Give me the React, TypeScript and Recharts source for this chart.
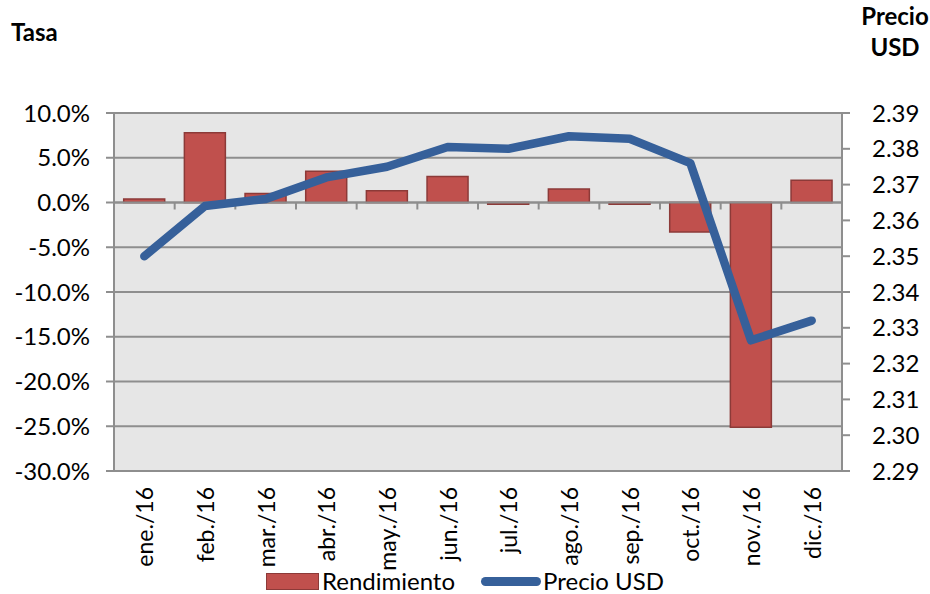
import { ComposedChart, Bar, Line, XAxis, YAxis, CartesianGrid, Legend, ReferenceLine } from "recharts"

const months = ["ene./16", "feb./16", "mar./16", "abr./16", "may./16", "jun./16", "jul./16", "ago./16", "sep./16", "oct./16", "nov./16", "dic./16"]
const rendimiento = [0.4, 7.8, 1.0, 3.5, 1.3, 2.9, -0.2, 1.5, -0.2, -3.3, -25.1, 2.5]
const precioUsd = [2.35, 2.364, 2.366, 2.372, 2.375, 2.3805, 2.38, 2.3835, 2.3828, 2.376, 2.3265, 2.332]
const leftTicks = [10, 5, 0, -5, -10, -15, -20, -25, -30]
const rightTicks = [2.39, 2.38, 2.37, 2.36, 2.35, 2.34, 2.33, 2.32, 2.31, 2.3, 2.29]

const data = months.map((m, i) => ({ month: m, rend: rendimiento[i], precio: precioUsd[i] }))

const FONT = "Lato, 'Noto Sans', sans-serif"
const GRID = "#8e8e8e"
const BAR = "#c0504d"
const BAR_EDGE = "#8c3a38"
const LINE = "#36609a"

function MonthTick({ x, y, payload }: any) {
  const ty = y + 8
  return (
    <text
      x={x}
      y={ty}
      transform={`rotate(-90, ${x}, ${ty})`}
      textAnchor="end"
      dominantBaseline="central"
      fontSize={23}
      fontFamily={FONT}
      fill="#000"
    >
      {payload.value}
    </text>
  )
}

function ZeroAxis({ x1, y1, x2 }: any) {
  const step = (x2 - x1) / months.length
  const marks = months.slice(1).map((_, i) => x1 + step * (i + 1))
  return (
    <g>
      <line x1={x1} y1={y1} x2={x2} y2={y1} stroke={GRID} strokeWidth={2} />
      {marks.map((mx, i) => (
        <line key={i} x1={mx} y1={y1} x2={mx} y2={y1 + 7} stroke={GRID} strokeWidth={2} />
      ))}
    </g>
  )
}

function LegendBox() {
  return (
    <div style={{ display: "flex", justifyContent: "center", alignItems: "center", fontFamily: FONT, fontSize: 24, lineHeight: "22px", color: "#000", height: 22 }}>
      <span style={{ width: 53, height: 17, background: BAR, border: `1px solid ${BAR_EDGE}`, boxSizing: "border-box", marginRight: 3 }} />
      <span style={{ marginRight: 26 }}>Rendimiento</span>
      <span style={{ width: 60, height: 9, background: LINE, borderRadius: 5, marginRight: 2 }} />
      <span>Precio USD</span>
    </div>
  )
}

export default function App() {
  return (
    <div style={{ position: "absolute", left: 0, top: 0, width: 930, height: 594, background: "#fff" }}>
      <div style={{ position: "absolute", left: 11, top: 17, fontFamily: FONT, fontWeight: 700, fontSize: 24 }}>Tasa</div>
      <div style={{ position: "absolute", left: 847, top: 0, width: 96, textAlign: "center", fontFamily: FONT, fontWeight: 700, fontSize: 24, lineHeight: "31px" }}>
        Precio
        <br />
        USD
      </div>
      <ComposedChart width={930} height={594} data={data} margin={{ top: 113, right: 0, left: 0, bottom: 2 }} barCategoryGap="16%">
        <CartesianGrid yAxisId="left" vertical={false} stroke={GRID} strokeWidth={2} fill="#e6e6e6" fillOpacity={1} />
        <XAxis dataKey="month" height={99} axisLine={false} tickLine={false} tick={<MonthTick />} interval={0} />
        <YAxis
          yAxisId="left"
          width={114}
          domain={[-30, 10]}
          ticks={leftTicks}
          tickFormatter={(v: number) => `${v.toFixed(1)}%`}
          axisLine={{ stroke: GRID, strokeWidth: 2 }}
          tickLine={{ stroke: GRID, strokeWidth: 2 }}
          tickSize={8}
          tickMargin={16}
          tick={{ fill: "#000", fontSize: 24, fontFamily: FONT }}
        />
        <YAxis
          yAxisId="right"
          orientation="right"
          width={88}
          domain={[2.29, 2.39]}
          ticks={rightTicks}
          tickFormatter={(v: number) => v.toFixed(2)}
          axisLine={{ stroke: GRID, strokeWidth: 2 }}
          tickLine={{ stroke: GRID, strokeWidth: 2 }}
          tickSize={8}
          tickMargin={22}
          tick={{ fill: "#000", fontSize: 24, fontFamily: FONT }}
        />
        <Legend verticalAlign="bottom" height={22} content={<LegendBox />} />
        <Bar yAxisId="left" dataKey="rend" name="Rendimiento" fill={BAR} stroke={BAR_EDGE} strokeWidth={1.5} isAnimationActive={false} />
        <ReferenceLine yAxisId="left" y={0} shape={<ZeroAxis />} />
        <Line
          yAxisId="right"
          dataKey="precio"
          name="Precio USD"
          stroke={LINE}
          strokeWidth={8.5}
          strokeLinecap="round"
          strokeLinejoin="round"
          dot={false}
          activeDot={false}
          isAnimationActive={false}
        />
      </ComposedChart>
    </div>
  )
}
